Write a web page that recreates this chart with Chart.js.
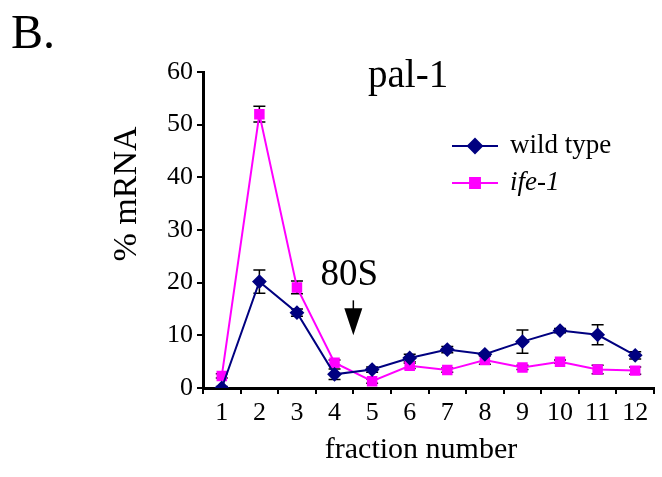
<!DOCTYPE html>
<html>
<head>
<meta charset="utf-8">
<script src="https://cdn.jsdelivr.net/npm/chart.js@4"></script>
<style>
  html, body { margin: 0; padding: 0; background: #fff; }
  #wrap { width: 662px; height: 477px; }
</style>
</head>
<body>
<div id="wrap"><canvas id="chart" width="662" height="477"></canvas></div>
<script>
// data (% mRNA per fraction)
const fractions = ["1", "2", "3", "4", "5", "6", "7", "8", "9", "10", "11", "12"];
const wildType = [0, 20.2, 14.3, 2.6, 3.5, 5.7, 7.3, 6.4, 8.8, 10.9, 10.1, 6.2];
const wildTypeErr = [0.3, 2.2, 0.7, 1.0, 0.5, 0.7, 0.6, 0.3, 2.2, 0.4, 1.9, 0.7];
const ife1 = [2.3, 52, 19.1, 4.8, 1.3, 4.2, 3.4, 5.3, 3.9, 5.0, 3.5, 3.3];
const ife1Err = [0.4, 1.5, 1.2, 0.5, 0.4, 0.5, 0.4, 0.8, 0.4, 0.3, 0.8, 0.7];
const yTicks = [0, 10, 20, 30, 40, 50, 60];

// 80S marker sits between fraction 4 and 5
const arrowAt = 3.5;
const arrowTipValue = 10;

const SERIF = "'Liberation Serif', 'Times New Roman', serif";
Chart.defaults.font.family = SERIF;
Chart.defaults.color = "#000";

// error bars go under the markers
const errorBars = {
  id: "errorBars",
  beforeDatasetsDraw(chart) {
    const ctx = chart.ctx;
    const y = chart.scales.y;
    ctx.save();
    ctx.strokeStyle = "#000";
    ctx.lineWidth = 1.5;
    chart.data.datasets.forEach((ds, i) => {
      const meta = chart.getDatasetMeta(i);
      meta.data.forEach((pt, j) => {
        const v = ds.data[j];
        const e = ds.errors[j];
        const top = y.getPixelForValue(v + e);
        const bot = y.getPixelForValue(Math.max(0, v - e));
        const cx = pt.x;
        ctx.beginPath();
        ctx.moveTo(cx, top); ctx.lineTo(cx, bot);
        ctx.moveTo(cx - 6, top); ctx.lineTo(cx + 6, top);
        ctx.moveTo(cx - 6, bot); ctx.lineTo(cx + 6, bot);
        ctx.stroke();
      });
    });
    ctx.restore();
  }
};

const annotations = {
  id: "annotations",
  afterDraw(chart) {
    const ctx = chart.ctx;
    const xs = chart.scales.x;
    const ys = chart.scales.y;
    ctx.save();
    ctx.fillStyle = "#000";

    // panel letter and title
    ctx.textAlign = "left";
    ctx.textBaseline = "alphabetic";
    ctx.font = "48px " + SERIF;
    ctx.fillText("B.", 11, 48);
    ctx.font = "39px " + SERIF;
    ctx.fillText("pal-1", 368, 87);

    // axis titles
    ctx.textAlign = "center";
    ctx.font = "30px " + SERIF;
    ctx.fillText("fraction number", 421, 458);
    ctx.save();
    ctx.translate(136, 194);
    ctx.rotate(-Math.PI / 2);
    ctx.font = "34px " + SERIF;
    ctx.fillText("% mRNA", 0, 0);
    ctx.restore();

    // 80S arrow
    const ax = xs.getPixelForValue(arrowAt);
    const tip = ys.getPixelForValue(arrowTipValue);
    ctx.font = "37px " + SERIF;
    ctx.fillText("80S", ax - 4, tip - 50);
    ctx.strokeStyle = "#000";
    ctx.lineWidth = 1.5;
    ctx.beginPath();
    ctx.moveTo(ax, tip - 35); ctx.lineTo(ax, tip - 25);
    ctx.stroke();
    ctx.beginPath();
    ctx.moveTo(ax - 9, tip - 27);
    ctx.lineTo(ax + 9, tip - 27);
    ctx.lineTo(ax, tip);
    ctx.closePath();
    ctx.fill();

    // legend: line with marker, like the original
    ctx.textAlign = "left";
    ctx.textBaseline = "middle";
    const rows = [
      { ds: chart.data.datasets[0], y: 146, italic: false },
      { ds: chart.data.datasets[1], y: 183, italic: true }
    ];
    rows.forEach(r => {
      ctx.strokeStyle = r.ds.borderColor;
      ctx.lineWidth = 2;
      ctx.beginPath();
      ctx.moveTo(452, r.y); ctx.lineTo(498, r.y);
      ctx.stroke();
      ctx.fillStyle = r.ds.pointBackgroundColor;
      ctx.strokeStyle = r.ds.pointBackgroundColor;
      Chart.helpers.drawPoint(ctx, {
        pointStyle: r.ds.pointStyle,
        radius: r.ds.pointRadius + 1,
        borderWidth: 1
      }, 475, r.y);
      ctx.fillStyle = "#000";
      ctx.font = (r.italic ? "italic " : "") + "27px " + SERIF;
      ctx.fillText(r.ds.label, 510, r.y);
    });
    ctx.restore();
  }
};

new Chart(document.getElementById("chart").getContext("2d"), {
  type: "line",
  data: {
    labels: fractions,
    datasets: [
      {
        label: "wild type",
        data: wildType,
        errors: wildTypeErr,
        borderColor: "#000080",
        backgroundColor: "#000080",
        pointBackgroundColor: "#000080",
        pointBorderColor: "#000080",
        pointStyle: "rectRot",
        pointRadius: 6,
        borderWidth: 2,
        tension: 0,
        fill: false
      },
      {
        label: "ife-1",
        data: ife1,
        errors: ife1Err,
        borderColor: "#ff00ff",
        backgroundColor: "#ff00ff",
        pointBackgroundColor: "#ff00ff",
        pointBorderColor: "#ff00ff",
        pointStyle: "rect",
        pointRadius: 6,
        borderWidth: 2,
        tension: 0,
        fill: false
      }
    ]
  },
  options: {
    responsive: false,
    animation: false,
    layout: { padding: { left: 0, top: 72, right: 7, bottom: 0 } },
    plugins: {
      legend: { display: false },
      tooltip: { enabled: false }
    },
    scales: {
      x: {
        type: "category",
        offset: true,
        grid: { offset: true, drawOnChartArea: false, drawTicks: true, tickLength: 6, color: "#000", lineWidth: 2 },
        border: { color: "#000", width: 3 },
        ticks: { font: { size: 26 }, color: "#000", padding: 4, maxRotation: 0, autoSkip: false },
        afterFit: (s) => { s.height = 89; }
      },
      y: {
        min: 0,
        max: 60,
        afterBuildTicks: (s) => { s.ticks = yTicks.map(v => ({ value: v })); },
        grid: { drawOnChartArea: false, drawTicks: true, tickLength: 6, color: "#000", lineWidth: 2 },
        border: { color: "#000", width: 3 },
        ticks: { font: { size: 26 }, color: "#000", padding: 4 },
        afterFit: (s) => { s.width = 203; }
      }
    }
  },
  plugins: [errorBars, annotations]
});
</script>
</body>
</html>
